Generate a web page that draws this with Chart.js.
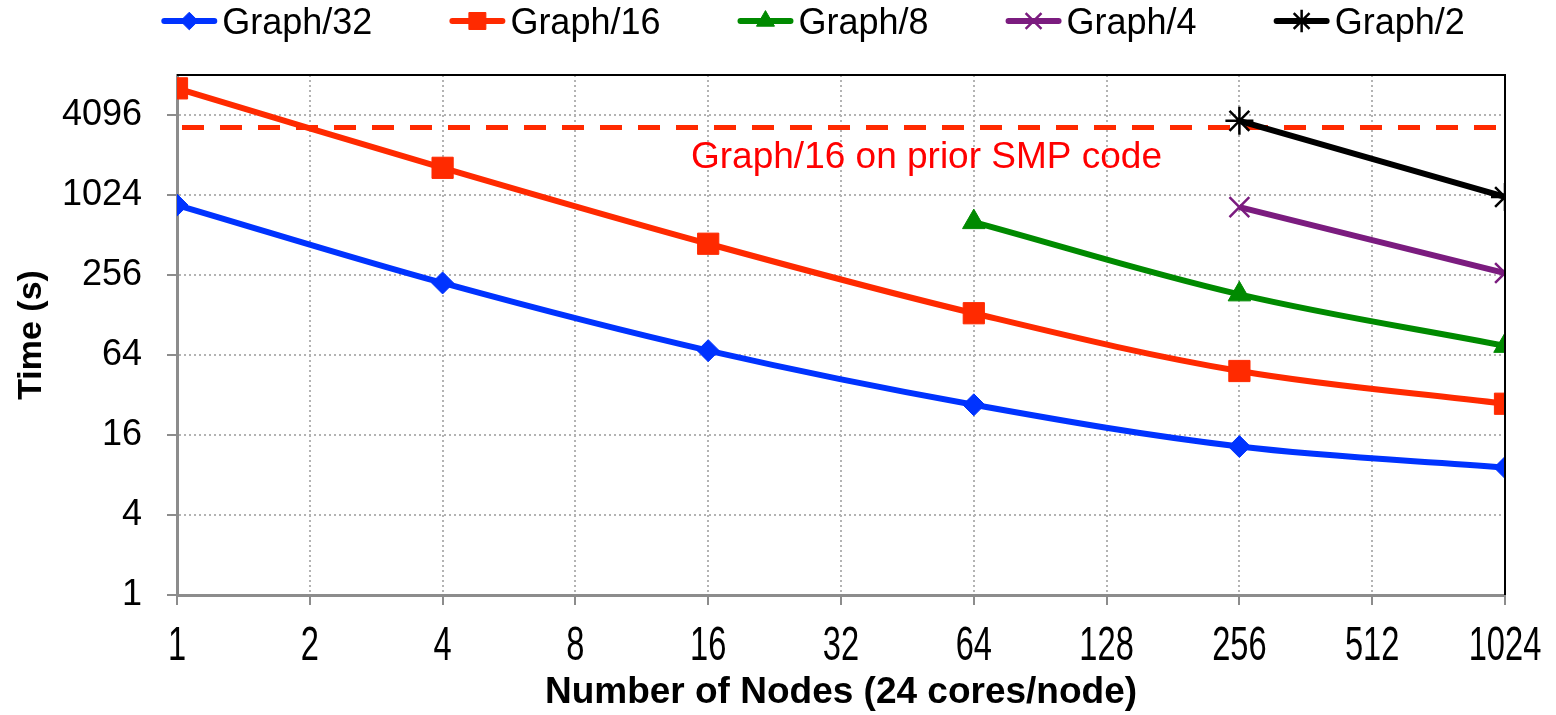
<!DOCTYPE html>
<html>
<head>
<meta charset="utf-8">
<script src="https://cdn.jsdelivr.net/npm/chart.js@4.4.1/dist/chart.umd.min.js"></script>
<style>
  body { margin: 0; background: #fff; }
  #wrap { width: 1556px; height: 715px; }
</style>
</head>
<body>
<div id="wrap"><canvas id="scalingChart"></canvas></div>
<script>
// x axis: number of nodes, y axis: time in seconds (both log2)
const nodeTicks = [1, 2, 4, 8, 16, 32, 64, 128, 256, 512, 1024];
const timeTicks = [1, 4, 16, 64, 256, 1024, 4096];

const graph32Nodes = [1, 4, 16, 64, 256, 1024];
const graph32Time = [860, 223, 69, 27, 13.1, 9.1];

const graph16Nodes = [1, 4, 16, 64, 256, 1024];
const graph16Time = [6500, 1640, 440, 132, 48.5, 27.5];

const graph8Nodes = [64, 256, 1024];
const graph8Time = [640, 183, 75];

const graph4Nodes = [256, 1024];
const graph4Time = [830, 265];

const graph2Nodes = [256, 1024];
const graph2Time = [3700, 990];

// old shared-memory run of Graph/16, shown as a flat dashed line
const priorSmpTime = 3300;
const priorSmpLabel = 'Graph/16 on prior SMP code';
const priorSmpLabelNodes = 50;
const priorSmpLabelTime = 1950;

const FONT = '"Liberation Sans", Arial, Helvetica, sans-serif';

function points(xs, ys) {
    return xs.map((x, i) => ({ x: x, y: ys[i] }));
}

function seriesDataset(label, xs, ys, color, marker, radius) {
    return {
        label: label,
        data: points(xs, ys),
        borderColor: color,
        backgroundColor: color,
        borderWidth: 6,
        tension: 0.35,
        pointStyle: marker,
        pointRadius: radius,
        pointHoverRadius: radius,
        pointBorderWidth: (marker === 'crossRot' || marker === 'star') ? 2.5 : 1,
        pointBackgroundColor: color,
        pointBorderColor: color
    };
}

const datasets = [
    seriesDataset('Graph/32', graph32Nodes, graph32Time, '#0033ff', 'rectRot', 11),
    seriesDataset('Graph/16', graph16Nodes, graph16Time, '#ff2a00', 'rect', 15),
    seriesDataset('Graph/8', graph8Nodes, graph8Time, '#008a00', 'triangle', 13),
    seriesDataset('Graph/4', graph4Nodes, graph4Time, '#7b1c7f', 'crossRot', 14),
    seriesDataset('Graph/2', graph2Nodes, graph2Time, '#000000', 'star', 14),
    {
        label: priorSmpLabel,
        hideInLegend: true,
        data: points([nodeTicks[0], nodeTicks[nodeTicks.length - 1]], [priorSmpTime, priorSmpTime]),
        borderColor: '#ff2a00',
        borderWidth: 5,
        borderDash: [22, 16],
        borderDashOffset: 33,
        pointRadius: 0,
        tension: 0
    }
];

// legend: line + marker + text, like the spreadsheet legend
const lineLegend = {
    id: 'lineLegend',
    afterDraw(chart) {
        const ctx = chart.ctx;
        const items = chart.data.datasets.filter(d => !d.hideInLegend);
        const lineLen = 56, textGap = 5, itemGap = 77;
        ctx.save();
        ctx.font = '36px ' + FONT;
        const widths = items.map(d => lineLen + textGap + ctx.measureText(d.label).width);
        const total = widths.reduce((a, b) => a + b, 0) + itemGap * (items.length - 1);
        let x = 813 - total / 2;
        const y = 21;
        items.forEach((d, i) => {
            ctx.strokeStyle = d.borderColor;
            ctx.fillStyle = d.borderColor;
            ctx.lineWidth = 6;
            ctx.lineCap = 'round';
            ctx.beginPath();
            ctx.moveTo(x + 3, y);
            ctx.lineTo(x + lineLen - 3, y);
            ctx.stroke();
            if (Chart.helpers && Chart.helpers.drawPoint) {
                ctx.lineWidth = d.pointBorderWidth;
                ctx.lineCap = 'butt';
                Chart.helpers.drawPoint(ctx, {
                    pointStyle: d.pointStyle,
                    radius: d.pointRadius * 0.8,
                    borderWidth: d.pointBorderWidth,
                    rotation: 0
                }, x + lineLen / 2, y);
            }
            ctx.fillStyle = '#000';
            ctx.textAlign = 'left';
            ctx.textBaseline = 'middle';
            ctx.fillText(d.label, x + lineLen + textGap, y + 3);
            x += widths[i] + itemGap;
        });
        ctx.restore();
    }
};

// the node-count labels are set in a tall, narrow face in the original
const narrowNodeLabels = {
    id: 'narrowNodeLabels',
    afterDraw(chart) {
        const ctx = chart.ctx;
        const xs = chart.scales.x;
        const y = xs.top + 52;
        ctx.save();
        ctx.fillStyle = '#000';
        ctx.font = '48px ' + FONT;
        ctx.textAlign = 'center';
        ctx.textBaseline = 'middle';
        nodeTicks.forEach(v => {
            const px = xs.getPixelForValue(v);
            ctx.save();
            ctx.translate(px, y);
            ctx.scale(0.68, 1);
            ctx.fillText(String(v), 0, 0);
            ctx.restore();
        });
        ctx.restore();
    }
};

// black frame on top and right, plus the red note
const frameAndNote = {
    id: 'frameAndNote',
    afterDatasetsDraw(chart) {
        const ctx = chart.ctx;
        const a = chart.chartArea;
        ctx.save();
        ctx.strokeStyle = '#000';
        ctx.lineWidth = 2;
        ctx.beginPath();
        ctx.moveTo(a.left, a.top);
        ctx.lineTo(a.right, a.top);
        ctx.lineTo(a.right, a.bottom);
        ctx.stroke();

        const nx = chart.scales.x.getPixelForValue(priorSmpLabelNodes);
        const ny = chart.scales.y.getPixelForValue(priorSmpLabelTime);
        ctx.fillStyle = '#ff0000';
        ctx.font = '37px ' + FONT;
        ctx.textAlign = 'center';
        ctx.textBaseline = 'middle';
        ctx.fillText(priorSmpLabel, nx, ny);
        ctx.restore();
    }
};

const ctx = document.getElementById('scalingChart').getContext('2d');
const scalingChart = new Chart(ctx, {
    type: 'line',
    data: { datasets: datasets },
    plugins: [lineLegend, narrowNodeLabels, frameAndNote],
    options: {
        responsive: true,
        maintainAspectRatio: false,
        animation: false,
        events: [],
        layout: { padding: { top: 75, right: 51, left: 0, bottom: 0 } },
        plugins: {
            legend: { display: false },
            tooltip: { enabled: false }
        },
        scales: {
            x: {
                type: 'logarithmic',
                min: 1,
                max: 1024,
                afterBuildTicks: scale => { scale.ticks = nodeTicks.map(v => ({ value: v })); },
                afterFit: scale => { scale.height = 120; },
                ticks: {
                    display: false
                },
                grid: {
                    color: '#b3b3b3',
                    lineWidth: 2,
                    tickLength: 10,
                    tickColor: '#8c8c8c',
                    tickWidth: 2
                },
                border: { color: '#8c8c8c', width: 3, dash: [2, 3] },
                title: {
                    display: true,
                    text: 'Number of Nodes (24 cores/node)',
                    color: '#000',
                    font: { family: FONT, size: 37, weight: 'bold' },
                    padding: { top: 0, bottom: 0 }
                }
            },
            y: {
                type: 'logarithmic',
                min: 1,
                max: 8192,
                afterBuildTicks: scale => { scale.ticks = timeTicks.map(v => ({ value: v })); },
                afterFit: scale => { scale.width = 177; },
                ticks: {
                    autoSkip: false,
                    padding: 25,
                    color: '#000',
                    font: { family: FONT, size: 36 },
                    callback: v => String(v)
                },
                grid: {
                    color: '#b3b3b3',
                    lineWidth: 2,
                    tickLength: 10,
                    tickColor: '#8c8c8c',
                    tickWidth: 2
                },
                border: { color: '#8c8c8c', width: 3, dash: [2, 3] },
                title: {
                    display: true,
                    text: 'Time (s)',
                    color: '#000',
                    font: { family: FONT, size: 34, weight: 'bold' },
                    padding: { top: 11, bottom: 0 }
                }
            }
        }
    }
});
</script>
</body>
</html>
